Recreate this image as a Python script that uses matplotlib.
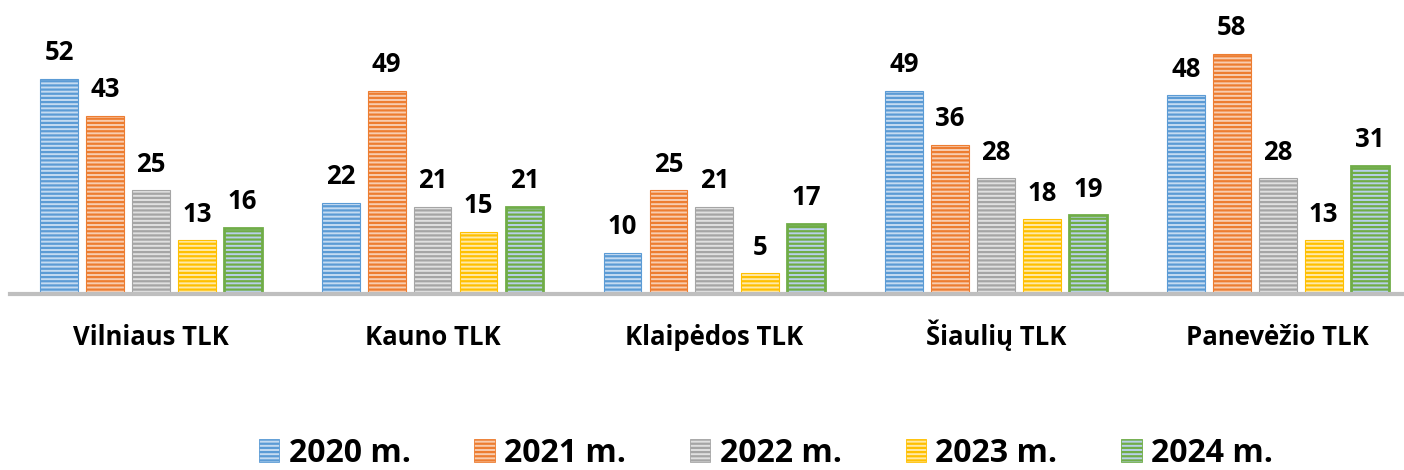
import matplotlib
matplotlib.use("Agg")
import matplotlib.pyplot as plt
import numpy as np
from matplotlib.patches import Patch

categories = ["Vilniaus TLK", "Kauno TLK", "Klaipėdos TLK", "Šiaulių TLK", "Panevėžio TLK"]
series_names = ["2020 m.", "2021 m.", "2022 m.", "2023 m.", "2024 m."]
v2020 = [52, 22, 10, 49, 48]
v2021 = [43, 49, 25, 36, 58]
v2022 = [25, 21, 21, 28, 28]
v2023 = [13, 15, 5, 18, 13]
v2024 = [16, 21, 17, 19, 31]
series = [v2020, v2021, v2022, v2023, v2024]

hatch_colors = ["#5B9BD5", "#ED7D31", "#A5A5A5", "#FFC000", "#70AD47"]
face_colors = ["#C5DBF1", "#F8CDB0", "#E0E0E0", "#FFE9A8", "#B8D0EA"]

plt.rcParams['hatch.linewidth'] = 1.6
plt.rcParams['font.family'] = ['Open Sans', 'DejaVu Sans']

fig = plt.figure(figsize=(14.04, 4.70), dpi=100)
ax = fig.add_axes([10/1404, 1 - 294/470, 1 - 10/1404, 290/470])

x = np.arange(len(categories))
width = 0.134
step = 0.163
for i, vals in enumerate(series):
    pos = x + (i - 2) * step
    bars = ax.bar(pos, vals, width, facecolor=face_colors[i], edgecolor=hatch_colors[i],
                  hatch='----', linewidth=0.8 if i < 4 else 2.0, zorder=2)
    for b, v in zip(bars, vals):
        ax.annotate(str(v), (b.get_x() + b.get_width() / 2, v), xytext=(0, 9),
                    textcoords='offset points', ha='center', va='bottom',
                    fontsize=18.5, fontweight='bold', color='black')

ax.set_xlim(-0.5, 4.448)
ax.set_ylim(0, 70)
for s in ['top', 'right', 'left']:
    ax.spines[s].set_visible(False)
ax.spines['bottom'].set_color('#BFBFBF')
ax.spines['bottom'].set_linewidth(3)
ax.set_yticks([])
ax.set_xticks(x)
ax.set_xticklabels(categories, fontsize=18.5, fontweight='bold')
ax.tick_params(axis='x', length=0, pad=37)
for lbl in ax.get_xticklabels():
    lbl.set_verticalalignment('baseline')

handles = [Patch(facecolor=face_colors[i], edgecolor=hatch_colors[i], hatch='----', linewidth=0.6)
           for i in range(5)]
fig.legend(handles, series_names, loc='center', bbox_to_anchor=(766/1404, 1 - 453/470), ncol=5,
           frameon=False, prop={'size': 23, 'weight': 'bold'}, handlelength=0.63, handleheight=0.7,
           columnspacing=2.0, handletextpad=0.3)

fig.savefig("out.png", dpi=100)
